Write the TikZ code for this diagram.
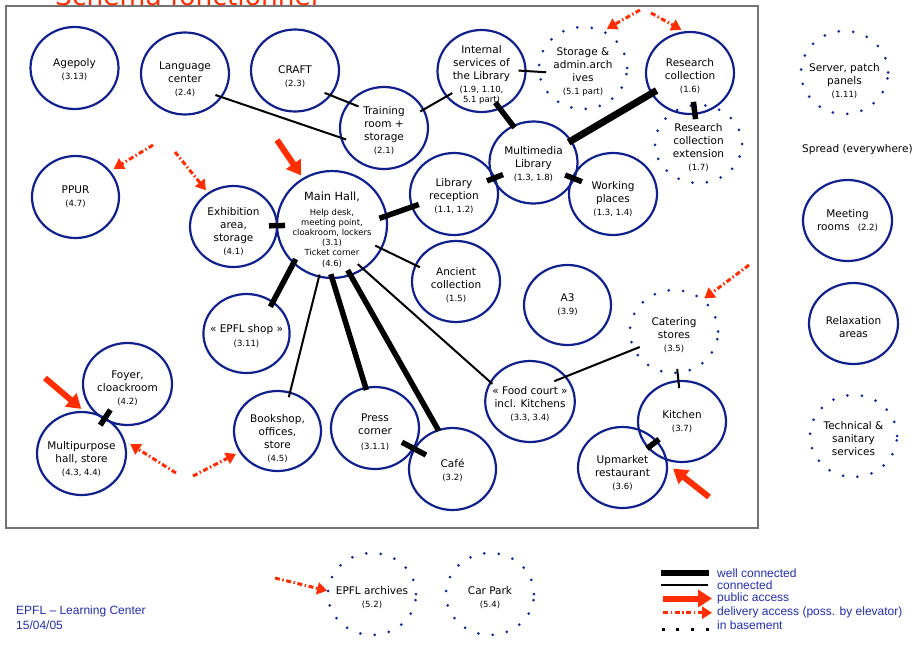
\documentclass[tikz,border=0pt]{standalone}
\usepackage{fontspec}
\setmainfont{DejaVu Sans}
\newfontfamily\legendfont{Liberation Sans}
\usepackage{tikz}
\usetikzlibrary{arrows.meta}
\usetikzlibrary{shapes.geometric}

\definecolor{planblue}{RGB}{16,32,140}
\definecolor{dotblue}{RGB}{20,40,160}
\definecolor{legblue}{RGB}{35,45,170}
\definecolor{accred}{RGB}{255,45,0}
\definecolor{framegray}{RGB}{115,115,115}

\newcommand{\sm}[1]{{\fontsize{8.5}{10}\selectfont #1}}
\newcommand{\pad}[1][16pt]{\rule{0pt}{#1}}

\begin{document}
\begin{tikzpicture}[
            x=1pt, y=-1pt,
            font=\fontsize{10.5}{13}\selectfont,
            place/.style={ellipse, draw=planblue, line width=2.2pt,
                minimum width=88pt, minimum height=82pt,
                inner sep=-6pt, outer sep=0pt, align=center},
            dotplace/.style={place, draw=dotblue, line width=3pt,
                dash pattern=on 0pt off 14.5pt, line cap=round},
            conn/.style={line width=2pt},
            well/.style={line width=5.5pt},
            public/.style={accred, line width=6pt, -{Triangle[length=14pt,width=17pt]}},
            delivery/.style={accred, line width=3pt,
                dash pattern=on 5pt off 2.5pt on 1.5pt off 2.5pt,
                -{Triangle[length=10pt,width=12pt]}},
            legtext/.style={anchor=west, inner sep=0pt, legblue,
                font=\legendfont\fontsize{12}{14}\selectfont}
        ]
            \useasboundingbox (0,0) rectangle (917,659);

            % Marco y titulo
            \draw[framegray, line width=1.6pt] (6,6) rectangle (758,528);
            \node[accred, anchor=base west, inner sep=0pt,
                font=\fontsize{26.5}{30}\selectfont] (title) at (55,5.5) {Schema fonctionnel};

            % Espacios (fila superior)
            \node[place] (age) at (74.5,68) {\pad[12pt]Agepoly\\\sm{(3.13)}};
            \node[place] (lang) at (185,73.5) {\pad[19pt]Language\\center\\\sm{(2.4)}};
            \node[place] (craft) at (295,70.5) {\pad[21pt]CRAFT\\\sm{(2.3)}};
            \node[place] (train) at (384,128) {\pad[14pt]Training\\room +\\storage\\\sm{(2.1)}};
            \node[place] (intern) at (481.5,71) {\pad[16pt]Internal\\services of\\the Library\\\sm{(1.9, 1.10,}\\[-3pt]\sm{5.1 part)}};
            \node[dotplace] (stor) at (583,68) {\pad[15pt]Storage \&\\admin.arch\\ives\\\sm{(5.1 part)}};
            \node[place] (resc) at (690,73) {\pad[15pt]Research\\collection\\\sm{(1.6)}};
            \node[dotplace, minimum width=87pt, minimum height=78pt] (rext) at (698.5,144) {\pad[15pt]Research\\collection\\extension\\\sm{(1.7)}};

            % Biblioteca y hall
            \node[place] (mmlib) at (533.5,162.5) {\pad[12pt]Multimedia\\Library\\\sm{(1.3, 1.8)}};
            \node[place] (work) at (613,194) {\pad[19pt]Working\\places\\\sm{(1.3, 1.4)}};
            \node[place] (librec) at (454,194) {\pad[12pt]Library\\reception\\\sm{(1.1, 1.2)}};
            \node[place, minimum width=110pt, minimum height=107pt,
                font=\fontsize{8.4}{10.2}\selectfont] (main) at (332,224.5)
                {\pad[19pt]{\fontsize{11.3}{13}\selectfont Main Hall,}\\[4pt]Help desk,\\meeting point,\\cloakroom, lockers\\(3.1)\\Ticket corner\\(4.6)};
            \node[place, minimum width=87pt, minimum height=81pt] (exh) at (233.5,226.5) {\pad[19pt]Exhibition\\area,\\storage\\\sm{(4.1)}};
            \node[place, minimum width=87pt] (ppur) at (75.5,197) {PPUR\\\sm{(4.7)}};
            \node[place, minimum height=81pt] (anc) at (456,281.5) {\pad[16pt]Ancient\\collection\\\sm{(1.5)}};
            \node[place, minimum width=87pt, minimum height=80pt] (athree) at (567.5,305) {A3\\\sm{(3.9)}};

            % Restauracion
            \node[dotplace, minimum height=83pt] (cater) at (674,331.5) {\pad[16pt]Catering\\stores\\\sm{(3.5)}};
            \node[place, minimum height=81pt] (food) at (530,401.5) {\pad[14pt]« Food court »\\incl. Kitchens\\\sm{(3.3, 3.4)}};
            \node[place, minimum height=81pt] (kitch) at (682,421.5) {Kitchen\\\sm{(3.7)}};
            \node[place, minimum width=89pt, minimum height=81pt] (upmkt) at (622.5,467.5) {\pad[19pt]Upmarket\\restaurant\\\sm{(3.6)}};
            \node[place, minimum width=87pt] (cafe) at (452.5,469) {\pad[12pt]Café\\\sm{(3.2)}};
            \node[place] (press) at (375,428) {\pad[16pt]Press\\corner\\[2pt]\sm{(3.1.1)}};
            \node[place, minimum width=87pt, minimum height=80pt] (book) at (277.5,431) {\pad[24pt]Bookshop,\\offices,\\store\\\sm{(4.5)}};
            \node[place, minimum width=85pt, minimum height=79pt] (shop) at (246.5,333.5) {\pad[13pt]« EPFL shop »\\[1pt]\sm{(3.11)}};

            % Multiuso
            \node[place, minimum width=89pt] (foyer) at (127.5,384) {\pad[17pt]Foyer,\\cloackroom\\\sm{(4.2)}};
            \node[place, minimum width=89pt, minimum height=83pt] (multi) at (81.5,453.5) {\pad[19pt]Multipurpose\\hall, store\\\sm{(4.3, 4.4)}};

            % Fuera del edificio
            \node[dotplace, minimum width=87pt, minimum height=83pt] (server) at (844.5,72.5) {\pad[26pt]Server, patch\\panels\\\sm{(1.11)}};
            \node[anchor=west, inner sep=0pt] (spread) at (802,150) {Spread (everywhere)};
            \node[place, minimum width=89pt, minimum height=81pt] (meet) at (847.5,220.5) {Meeting\\rooms\hspace{8pt}\sm{(2.2)}};
            \node[place, minimum width=89pt, minimum height=81pt] (relax) at (853.5,323.5) {\pad[16pt]Relaxation\\areas};
            \node[dotplace, minimum width=87pt] (tech) at (853.5,436) {\pad[13pt]Technical \&\\sanitary\\services};
            \node[dotplace] (arch) at (372,594) {\pad[16pt]EPFL archives\\\sm{(5.2)}};
            \node[dotplace] (park) at (490,594) {\pad[15pt]Car Park\\\sm{(5.4)}};

            % Conexiones
            \draw[conn, shorten <=-6pt, shorten >=-5pt] (lang.-33.5) -- (train.193.3);
            \draw[conn, shorten <=-6pt, shorten >=-10pt] (craft.-35.6) -- (train.144.9);
            \draw[conn, shorten <=-3.6pt, shorten >=-6.3pt] (train.25.3) -- (intern.216.7);
            \draw[conn, shorten <=-7pt, shorten >=-7pt] (intern.0) -- (stor.185);
            \draw[conn, shorten <=-6.6pt, shorten >=-4.7pt] (main.-26.6) -- (anc.158.1);
            \draw[conn, shorten <=-2pt, shorten >=-4.7pt] (main.256.6) -- (book.72.8);
            \draw[conn, shorten <=-7pt, shorten >=-2.4pt] (main.-55) -- (food.154.7);
            \draw[conn, shorten <=-12pt, shorten >=-6pt] (food.35) -- (cater.204.5);
            \draw[conn, shorten <=-4pt, shorten >=-7pt] (cater.-85.4) -- (kitch.95.1);

            % Bien conectados
            \draw[well, shorten <=-7.3pt, shorten >=-2pt] (intern.-64.9) -- (mmlib.119.5);
            \draw[well, line width=7pt, shorten <=-2.7pt, shorten >=-5.6pt] (mmlib.30.7) -- (resc.208.6);
            \draw[well, shorten <=29pt, shorten >=25pt] (resc.center) -- (rext.center);
            \draw[well, shorten <=35.5pt, shorten >=32.8pt] (librec.center) -- (mmlib.center);
            \draw[well, shorten <=34pt, shorten >=33.4pt] (mmlib.center) -- (work.center);
            \draw[well, shorten <=-7.3pt, shorten >=-7pt] (main.9.1) -- (librec.197.4);
            \draw[well, shorten <=35.5pt, shorten >=47pt] (exh.center) -- (main.center);
            \draw[well, shorten <=-4.3pt, shorten >=-5.1pt] (main.225.4) -- (shop.50.7);
            \draw[well, shorten <=-4pt, shorten >=-2.2pt] (main.-90) -- (press.103.3);
            \draw[well, shorten <=-5.5pt, shorten >=-0.6pt] (main.-70.6) -- (cafe.110.9);
            \draw[well, shorten <=30.5pt, shorten >=30pt] (press.center) -- (cafe.center);
            \draw[well, shorten <=29pt, shorten >=31pt] (kitch.center) -- (upmkt.center);
            \draw[well, shorten <=31pt, shorten >=34pt] (foyer.center) -- (multi.center);

            % Accesos del publico
            \coordinate (in-main) at (277,140);
            \coordinate (in-multi) at (45,378);
            \coordinate (in-upmkt) at (709,497);
            \draw[public, shorten >=4pt] (in-main) -- (main.122);
            \draw[public, shorten >=5pt] (in-multi) -- (multi.85);
            \draw[public, shorten >=8pt] (in-upmkt) -- (upmkt.5);

            % Entregas
            \coordinate (dl-ppur) at (153,145);
            \coordinate (dl-exh) at (175,152);
            \coordinate (dl-stor) at (640,10);
            \coordinate (dl-resc) at (651,13);
            \coordinate (dl-cater) at (749,265);
            \coordinate (dl-multi) at (176,473);
            \coordinate (dl-book) at (193,476);
            \coordinate (dl-arch) at (275,578);
            \draw[delivery, shorten >=5pt] (dl-ppur) -- (ppur.37.7);
            \draw[delivery, shorten >=4pt] (dl-exh) -- (exh.127);
            \draw[delivery, shorten >=5pt] (dl-stor) -- (stor.62.4);
            \draw[delivery, shorten >=5pt] (dl-resc) -- (resc.96.2);
            \draw[delivery, shorten >=2.4pt] (dl-cater) -- (cater.48.2);
            \draw[delivery, shorten >=8pt] (dl-multi) -- (multi.18.4);
            \draw[delivery, shorten >=4.8pt] (dl-book) -- (book.209);
            \draw[delivery, shorten >=1pt] (dl-arch) -- (arch.176.2);

            % Pie de pagina
            \node[legtext] (epfl) at (16,611) {EPFL – Learning Center};
            \node[legtext] (date) at (16,625) {15/04/05};

            % Leyenda
            \coordinate (lg-well-a) at (661,573);   \coordinate (lg-well-b) at (709,573);
            \coordinate (lg-conn-a) at (661,585);   \coordinate (lg-conn-b) at (708,585);
            \coordinate (lg-pub-a) at (663,598.5);  \coordinate (lg-pub-b) at (712,598.5);
            \coordinate (lg-del-a) at (663,612.7);  \coordinate (lg-del-b) at (712,612.7);
            \coordinate (lg-bas-a) at (661.5,629);  \coordinate (lg-bas-b) at (710,629);
            \draw[well] (lg-well-a) -- (lg-well-b);
            \draw[conn] (lg-conn-a) -- (lg-conn-b);
            \draw[public] (lg-pub-a) -- (lg-pub-b);
            \draw[delivery] (lg-del-a) -- (lg-del-b);
            \draw[line width=3pt, dash pattern=on 3pt off 11.7pt] (lg-bas-a) -- (lg-bas-b);
            \node[legtext] (lg-well) at (717,572.7) {well connected};
            \node[legtext] (lg-conn) at (717,585) {connected};
            \node[legtext] (lg-pub) at (717,598.7) {public access};
            \node[legtext] (lg-del) at (717,612.7) {delivery access (poss. by elevator)};
            \node[legtext] (lg-bas) at (717,625) {in basement};

        \end{tikzpicture}
\end{document}
